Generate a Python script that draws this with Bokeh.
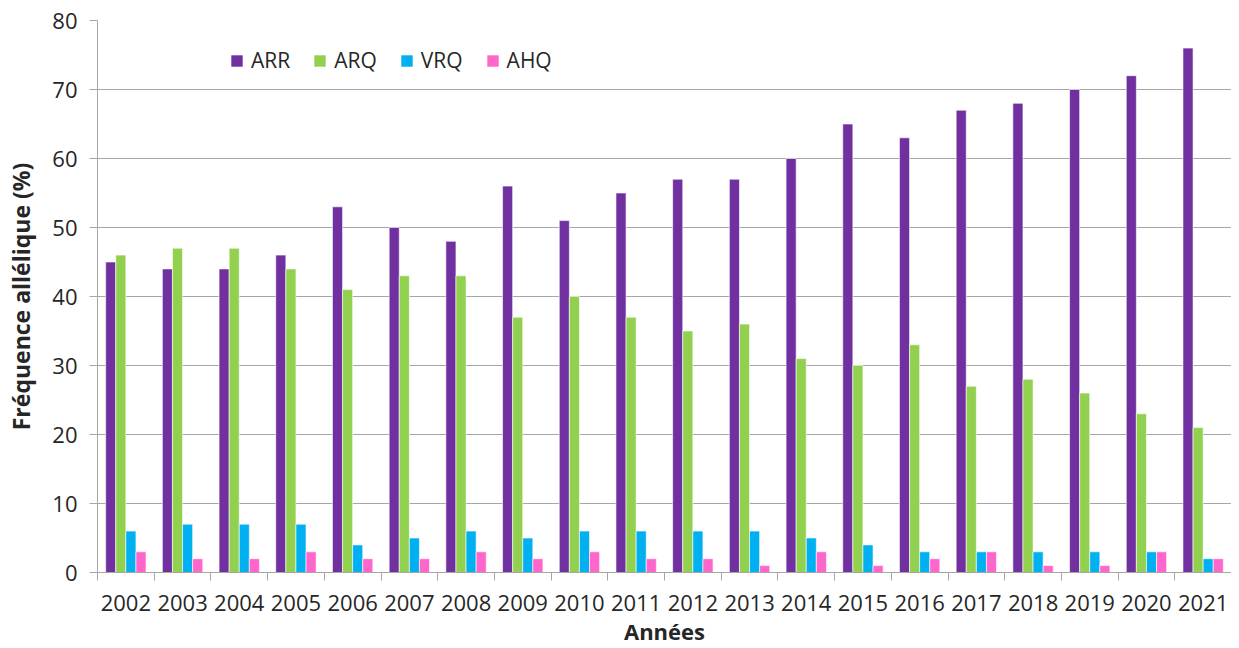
import numpy as np
from bokeh.plotting import figure
from bokeh.models import ColumnDataSource, Range1d, FixedTicker, Legend, LegendItem
from bokeh.transform import dodge
from bokeh.embed import file_html
from bokeh.resources import INLINE

years = ["2002", "2003", "2004", "2005", "2006", "2007", "2008", "2009", "2010", "2011",
         "2012", "2013", "2014", "2015", "2016", "2017", "2018", "2019", "2020", "2021"]
ARR = [45, 44, 44, 46, 53, 50, 48, 56, 51, 55, 57, 57, 60, 65, 63, 67, 68, 70, 72, 76]
ARQ = [46, 47, 47, 44, 41, 43, 43, 37, 40, 37, 35, 36, 31, 30, 33, 27, 28, 26, 23, 21]
VRQ = [6, 7, 7, 7, 4, 5, 6, 5, 6, 6, 6, 6, 5, 4, 3, 3, 3, 3, 3, 2]
AHQ = [3, 2, 2, 3, 2, 2, 3, 2, 3, 2, 2, 1, 3, 1, 2, 3, 1, 1, 3, 2]
series = ["ARR", "ARQ", "VRQ", "AHQ"]
colors = ["#7030A0", "#92D050", "#00B0F0", "#FF66CC"]
y_ticks = [0, 10, 20, 30, 40, 50, 60, 70, 80]

idx = list(range(len(years)))
src = ColumnDataSource(dict(x=idx, ARR=ARR, ARQ=ARQ, VRQ=VRQ, AHQ=AHQ))

FONT = "Open Sans"
FS = "22px"
p = figure(width=1231, height=648, output_backend="svg", toolbar_location=None,
           x_range=Range1d(-0.5, len(years) - 0.5), y_range=Range1d(0, 80),
           min_border_left=97, min_border_right=0, min_border_top=20, min_border_bottom=74)
p.outline_line_color = None

bw = 0.178
offsets = [-1.5 * bw, -0.5 * bw, 0.5 * bw, 1.5 * bw]
renderers = []
for s, c, o in zip(series, colors, offsets):
    r = p.vbar(x=dodge("x", o), top=s, width=bw, bottom=0, source=src,
               fill_color=c, line_color="#ffffff", line_alpha=0.6, line_width=1)
    renderers.append(r)

# axes
p.yaxis.ticker = FixedTicker(ticks=y_ticks)
p.yaxis.axis_label = "Fréquence allélique (%)"
p.xaxis.axis_label = "Années"
p.xaxis.ticker = FixedTicker(ticks=idx, minor_ticks=[i - 0.5 for i in range(len(years) + 1)])
p.xaxis.major_label_overrides = {i: y for i, y in enumerate(years)}
p.xaxis.major_tick_out = 0
p.xaxis.major_tick_in = 0
p.xaxis.minor_tick_out = 8
p.xaxis.minor_tick_in = 0
p.xaxis.minor_tick_line_color = "#A6A6A6"
p.yaxis.major_tick_out = 8
p.yaxis.major_tick_in = 0
p.yaxis.minor_tick_line_color = None
for ax in (p.xaxis, p.yaxis):
    ax.axis_line_color = "#A6A6A6"
    ax.major_tick_line_color = "#A6A6A6"
    ax.major_label_text_font = FONT
    ax.major_label_text_font_size = FS
    ax.major_label_text_color = "#262626"
    ax.axis_label_text_font = FONT
    ax.axis_label_text_font_style = "bold"
    ax.axis_label_text_color = "#262626"
p.xaxis.axis_label_text_font_size = "22px"
p.yaxis.axis_label_text_font_size = "23px"
p.xaxis.major_label_standoff = 14
p.xaxis.axis_label_standoff = 2
p.yaxis.major_label_standoff = 12
p.yaxis.axis_label_standoff = 12

p.xgrid.grid_line_color = None
p.ygrid.grid_line_color = "#A6A6A6"
p.ygrid.ticker = FixedTicker(ticks=y_ticks)

legend = Legend(items=[LegendItem(label=s, renderers=[r]) for s, r in zip(series, renderers)],
                orientation="horizontal", location=(132, 498),
                background_fill_alpha=0, border_line_color=None,
                label_text_font=FONT, label_text_font_size="21px", label_text_color="#262626",
                glyph_width=15, glyph_height=15, spacing=22, label_standoff=7, padding=4)
p.add_layout(legend)

open("out.html", "w").write(file_html(p, INLINE))
